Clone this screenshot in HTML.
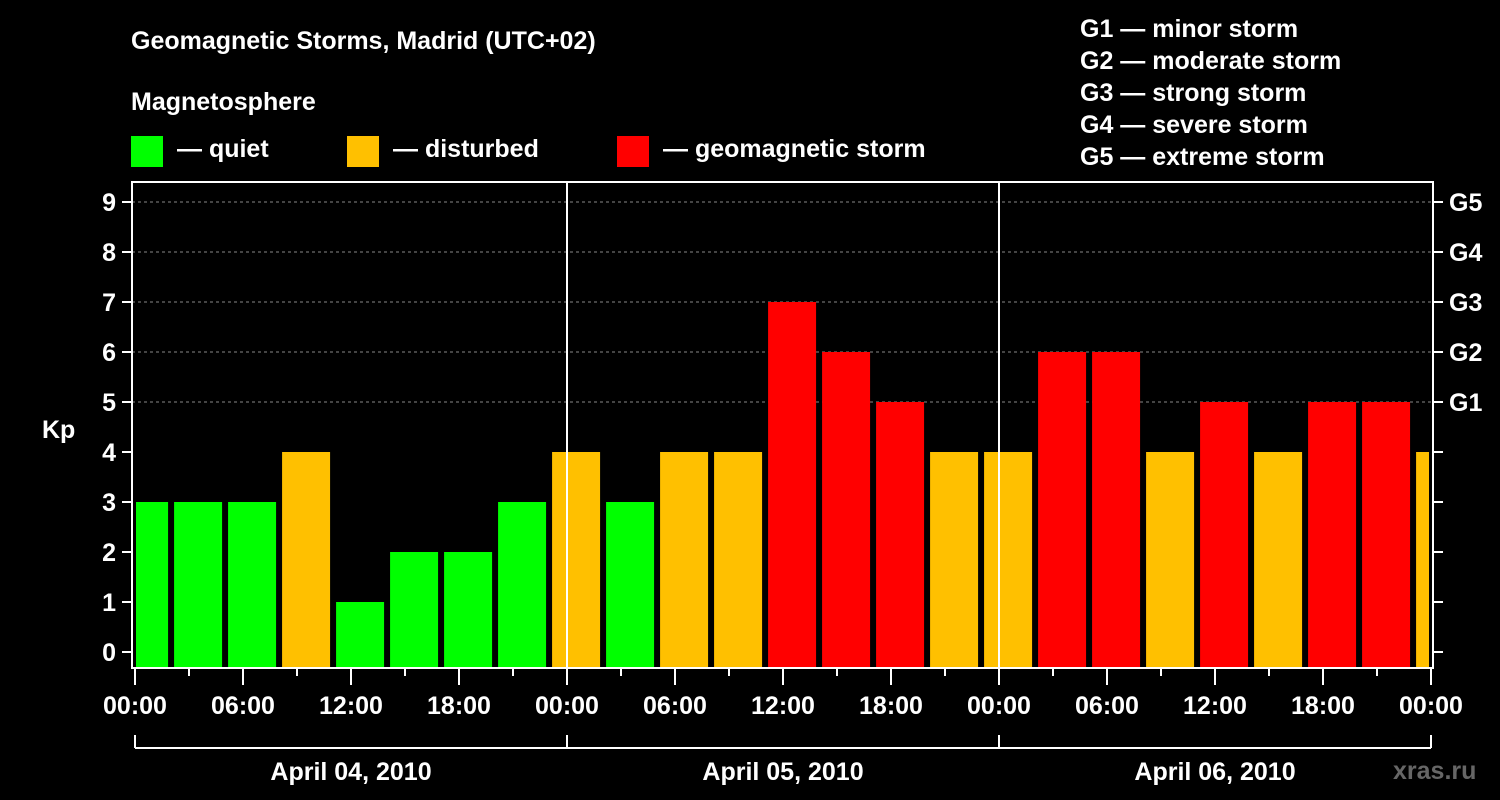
<!DOCTYPE html>
<html><head><meta charset="utf-8"><style>
html,body{margin:0;padding:0;background:#000;}
svg{display:block;font-family:"Liberation Sans",Arial,sans-serif;font-weight:bold;}
</style></head><body>
<svg id="chart" width="1500" height="800" viewBox="0 0 1500 800">
<rect x="0" y="0" width="1500" height="800" fill="#000"/>
<text x="131" y="49" fill="#fff" font-size="25">Geomagnetic Storms, Madrid (UTC+02)</text>
<text x="131" y="110" fill="#fff" font-size="25">Magnetosphere</text>
<g><rect x="131" y="136" width="32" height="31" fill="#00ff00"/><text x="177" y="157" fill="#fff" font-size="25">— quiet</text></g>
<g><rect x="347" y="136" width="32" height="31" fill="#ffc000"/><text x="393" y="157" fill="#fff" font-size="25">— disturbed</text></g>
<g><rect x="617" y="136" width="32" height="31" fill="#ff0000"/><text x="663" y="157" fill="#fff" font-size="25">— geomagnetic storm</text></g>
<g fill="#fff" font-size="25">
<text x="1080" y="37">G1 — minor storm</text>
<text x="1080" y="69">G2 — moderate storm</text>
<text x="1080" y="101">G3 — strong storm</text>
<text x="1080" y="133">G4 — severe storm</text>
<text x="1080" y="165">G5 — extreme storm</text>
</g>
<text x="42" y="438" fill="#fff" font-size="25">Kp</text>
<g id="grid"></g>
<g id="bars"></g>
<g id="axes"></g>
<text x="1393" y="779" fill="#666" font-size="25">xras.ru</text>
</svg>
<script>
const values = [3,3,3,4,1,2,2,3,4,3,4,4,7,6,5,4,4,6,6,4,5,4,5,5,4];
const yTicks = [0,1,2,3,4,5,6,7,8,9];
const gLabels = ["G1","G2","G3","G4","G5"];
const xTickLabels = ["00:00","06:00","12:00","18:00","00:00","06:00","12:00","18:00","00:00","06:00","12:00","18:00","00:00"];
const dayLabels = ["April 04, 2010","April 05, 2010","April 06, 2010"];

const NS="http://www.w3.org/2000/svg";
const L=132,R=1433,T=182,B=668,X0=135,DAY=432;
const y=v=>652-50*v;
const x=h=>X0+h*DAY/24; // hours since start
function mk(tag,attrs,parent,txt){const e=document.createElementNS(NS,tag);for(const k in attrs)e.setAttribute(k,attrs[k]);if(txt!==undefined)e.textContent=txt;parent.appendChild(e);return e;}
const grid=document.getElementById('grid'),bars=document.getElementById('bars'),axes=document.getElementById('axes');
// gridlines
yTicks.forEach(v=>{if(v>=5){const l=mk('line',{x1:L,x2:R,y1:y(v),y2:y(v),stroke:'#888','stroke-dasharray':'3,3','stroke-width':1},grid);

}});
// bars: each bar covers 3h interval starting at -1h(shifted), gap
values.forEach((v,i)=>{
 let x1=x(3*i-0.94)+2, x2=x1+48;
 x1=Math.max(x1,L+4); x2=Math.min(x2,R-4);
 const c=v>=5?'#ff0000':(v>=4?'#ffc000':'#00ff00');
 const r=mk('rect',{x:x1,y:y(v),width:x2-x1,height:B-1-y(v),fill:c},bars);
 
 
});
// day separators
[1,2].forEach(d=>{const l=mk('line',{x1:x(24*d),x2:x(24*d),y1:T,y2:B,stroke:'#fff','stroke-width':2},axes);

});
// frame
const f=mk('rect',{x:L,y:T,width:R-L,height:B-T,fill:'none',stroke:'#fff','stroke-width':2},axes);


// y ticks & labels
yTicks.forEach(v=>{
 mk('line',{x1:L-10,x2:L,y1:y(v),y2:y(v),stroke:'#fff','stroke-width':2},axes);
 mk('line',{x1:R,x2:R+10,y1:y(v),y2:y(v),stroke:'#fff','stroke-width':2},axes);
 const t=mk('text',{x:116,y:y(v)+9,fill:'#fff','font-size':25,'text-anchor':'end'},axes,String(v));
 
 
});
gLabels.forEach((g,i)=>{const t=mk('text',{x:1449,y:y(5+i)+9,fill:'#fff','font-size':25},axes,g);

});
// x ticks
for(let k=0;k<=24;k++){const xx=x(3*k);mk('line',{x1:xx,x2:xx,y1:B,y2:B+(k%2?8:17),stroke:'#fff','stroke-width':2},axes);}
xTickLabels.forEach((s,i)=>{const t=mk('text',{x:x(6*i),y:714,fill:'#fff','font-size':25,'text-anchor':'middle'},axes,s);

});
// date bracket
mk('line',{x1:x(0),x2:x(72),y1:748,y2:748,stroke:'#fff','stroke-width':2},axes);
for(let d=0;d<=3;d++)mk('line',{x1:x(24*d),x2:x(24*d),y1:735,y2:748,stroke:'#fff','stroke-width':2},axes);
dayLabels.forEach((s,i)=>{const t=mk('text',{x:x(24*i+12),y:780,fill:'#fff','font-size':25,'text-anchor':'middle'},axes,s);

});
</script>
</body></html>
